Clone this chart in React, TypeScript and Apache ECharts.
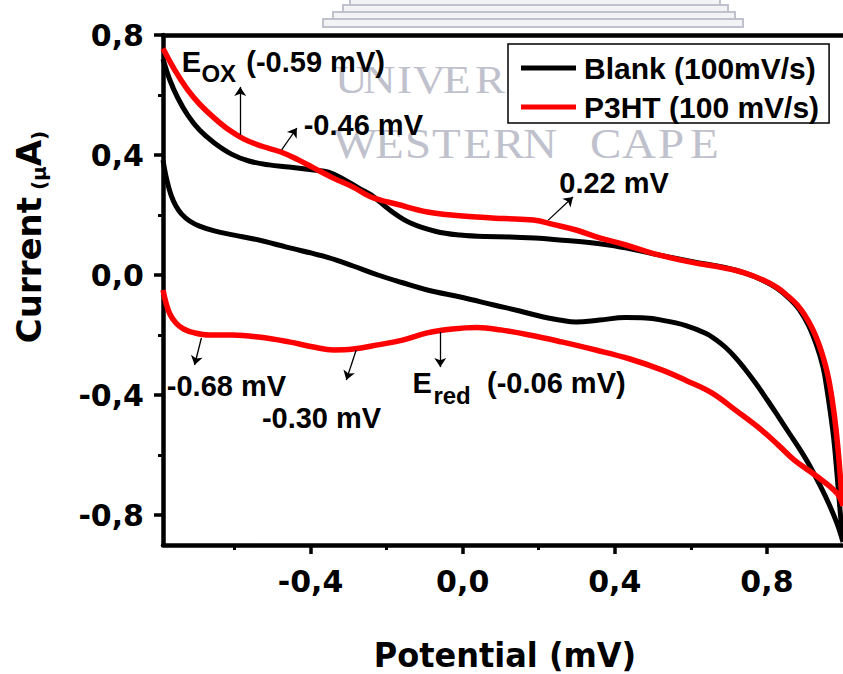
import React, { useEffect, useRef } from "react";
import * as echarts from "echarts";

// ---- Data ----
// Blank: forward (upper) branch left->right, then reverse (lower) branch right->left
const blankPotential = [
  -0.788, -0.77, -0.749, -0.723, -0.692, -0.653, -0.608, -0.562, -0.509, -0.457, -0.392, -0.353, -0.31,
  -0.27, -0.241, -0.19, -0.137, -0.07, -0.007, 0.06, 0.124, 0.19, 0.254, 0.32, 0.384, 0.45, 0.515,
  0.611, 0.689, 0.741, 0.79, 0.827, 0.86, 0.885, 0.91, 0.932, 0.948, 0.958, 0.968, 0.976, 0.984,
  0.992, 1.0,
  0.984, 0.96, 0.935, 0.91, 0.885, 0.86, 0.83, 0.8, 0.77, 0.74, 0.715, 0.69, 0.665, 0.64, 0.585, 0.53,
  0.481, 0.429, 0.36, 0.298, 0.254, 0.212, 0.15, 0.082, 0.0, -0.093, -0.16, -0.223, -0.288, -0.353,
  -0.463, -0.549, -0.601, -0.653, -0.692, -0.718, -0.739, -0.754, -0.767, -0.778, -0.788,
];
const blankCurrent = [
  0.72, 0.65, 0.59, 0.533, 0.483, 0.44, 0.403, 0.38, 0.367, 0.36, 0.35, 0.343, 0.317,
  0.287, 0.267, 0.215, 0.173, 0.145, 0.133, 0.128, 0.127, 0.123, 0.117, 0.11, 0.1, 0.085, 0.067,
  0.043, 0.025, 0.007, -0.018, -0.045, -0.08, -0.115, -0.17, -0.24, -0.31, -0.383, -0.47, -0.55, -0.66,
  -0.78, -0.89,
  -0.827, -0.755, -0.69, -0.63, -0.578, -0.53, -0.472, -0.415, -0.36, -0.31, -0.272, -0.24, -0.215,
  -0.195, -0.168, -0.152, -0.143, -0.142, -0.15, -0.157, -0.15, -0.14, -0.12, -0.1, -0.075, -0.05, -0.025,
  0.0, 0.03, 0.058, 0.093, 0.12, 0.133, 0.147, 0.163, 0.18, 0.203, 0.23, 0.267, 0.317, 0.383,
];

// P3HT: forward (upper) branch left->right, then reverse (lower) branch right->left
const p3htPotential = [
  -0.788, -0.757, -0.723, -0.692, -0.653, -0.614, -0.575, -0.53, -0.478, -0.431, -0.392, -0.34, -0.288,
  -0.241, -0.17, -0.093, -0.03, 0.038, 0.11, 0.186, 0.24, 0.298, 0.36, 0.429, 0.515, 0.6, 0.689,
  0.741, 0.79, 0.827, 0.855, 0.88, 0.9, 0.918, 0.935, 0.95, 0.962, 0.972, 0.981, 0.989, 0.996, 1.0,
  0.984, 0.93, 0.872, 0.83, 0.786, 0.72, 0.655, 0.59, 0.525, 0.44, 0.35, 0.26, 0.176, 0.1, 0.038,
  -0.027, -0.093, -0.158, -0.223, -0.288, -0.34, -0.392, -0.457, -0.536, -0.606, -0.666, -0.705, -0.734,
  -0.754, -0.77, -0.78, -0.788,
];
const p3htCurrent = [
  0.755, 0.683, 0.617, 0.57, 0.523, 0.483, 0.453, 0.43, 0.41, 0.383, 0.357, 0.323, 0.293,
  0.26, 0.235, 0.21, 0.2, 0.193, 0.188, 0.183, 0.168, 0.15, 0.124, 0.1, 0.067, 0.043, 0.023,
  0.007, -0.017, -0.042, -0.07, -0.1, -0.135, -0.175, -0.225, -0.283, -0.345, -0.42, -0.507, -0.61, -0.72, -0.77,
  -0.727, -0.67, -0.617, -0.567, -0.517, -0.453, -0.393, -0.353, -0.317, -0.28, -0.25, -0.223, -0.2,
  -0.183, -0.175, -0.18, -0.193, -0.217, -0.233, -0.247, -0.25, -0.24, -0.223, -0.207, -0.2, -0.2,
  -0.193, -0.18, -0.16, -0.13, -0.093, -0.05,
];

const seriesNames = ["Blank (100mV/s)", "P3HT (100 mV/s)"];

const xMajorTicks = [-0.4, 0, 0.4, 0.8];
const xMinorTicks = [-0.6, -0.2, 0.2, 0.6];
const yMajorTicks = [-0.8, -0.4, 0, 0.4, 0.8];
const yMinorTicks = [-0.6, -0.2, 0.2, 0.6];

// annotation texts (subscripts as their own pieces) and their anchors in data units
const annotationTexts = [
  "E", "OX", "(-0.59 mV)",
  "-0.46 mV", "0.22 mV", "-0.68 mV", "-0.30 mV",
  "E", "red", "(-0.06 mV)",
];
const annotationIsSub = [false, true, false, false, false, false, false, false, true, false];
const annotationAnchors = [
  [-0.739, 0.71], [-0.687, 0.672], [-0.569, 0.71],
  [-0.418, 0.5], [0.254, 0.307], [-0.778, -0.37], [-0.528, -0.475],
  [-0.132, -0.36], [-0.077, -0.4], [0.064, -0.36],
];
const arrowFrom = [
  [-0.585, 0.467],
  [-0.476, 0.417],
  [0.225, 0.183],
  [-0.687, -0.21],
  [-0.28, -0.25],
  [-0.059, -0.19],
];
const arrowTo = [
  [-0.585, 0.627],
  [-0.436, 0.49],
  [0.29, 0.26],
  [-0.705, -0.3],
  [-0.306, -0.35],
  [-0.059, -0.307],
];

const X_MIN = -0.788;
const X_MAX = 1.0;
const Y_MIN = -0.9;
const Y_MAX = 0.8;

const fmt = (v: number) => v.toFixed(1).replace(".", ",");

const TICK_FONT = "DejaVu Sans";
const ARIAL = "Liberation Sans";
const WM = "#bfc1cd";

export default function App() {
  const ref = useRef<HTMLDivElement>(null);

  useEffect(() => {
    if (!ref.current) return;
    const chart = echarts.init(ref.current, undefined, { renderer: "svg" });

    // watermark letters (decoration of the scanned page)
    const wmTop = ["U", "N", "I", "V", "E", "R"];
    const wmTopX = [335, 363, 397, 413, 443, 475];
    const wmBottom = ["W", "E", "S", "T", "E", "R", "N", "C", "A", "P", "E"];
    const wmBottomX = [333, 375, 405, 432, 463, 493, 523, 590, 622, 658, 690];

    const watermark: any[] = [
      { type: "rect", z: 0, shape: { x: 350, y: -3, width: 370, height: 8 }, style: { fill: "#f3f3f6", stroke: WM, lineWidth: 2 } },
      { type: "rect", z: 0, shape: { x: 343, y: 5, width: 385, height: 7 }, style: { fill: "#f3f3f6", stroke: WM, lineWidth: 2 } },
      { type: "rect", z: 0, shape: { x: 333, y: 12, width: 402, height: 7 }, style: { fill: "#f3f3f6", stroke: WM, lineWidth: 2 } },
      { type: "rect", z: 0, shape: { x: 323, y: 19, width: 420, height: 8 }, style: { fill: "#f3f3f6", stroke: WM, lineWidth: 2 } },
    ];
    wmTop.forEach((ch, i) =>
      watermark.push({
        type: "text", z: 0, x: wmTopX[i], y: 79, scaleX: 1.1,
        style: { text: ch, fontSize: 41, fontFamily: "Liberation Serif", fill: WM, align: "left", verticalAlign: "middle" },
      })
    );
    wmBottom.forEach((ch, i) =>
      watermark.push({
        type: "text", z: 0, x: wmBottomX[i], y: 144, scaleX: 1.12,
        style: { text: ch, fontSize: 42, fontFamily: "Liberation Serif", fill: WM, align: "left", verticalAlign: "middle" },
      })
    );

    const baseX = { type: "value", min: X_MIN, max: X_MAX, splitLine: { show: false } };
    const baseY = { type: "value", min: Y_MIN, max: Y_MAX, splitLine: { show: false } };

    const option: any = {
      animation: false,
      backgroundColor: "#fff",
      grid: { left: 163, right: -6, top: 35, bottom: 129, containLabel: false },
      legend: {
        data: seriesNames,
        orient: "vertical",
        left: 508,
        top: 44,
        padding: [8, 10, 0, 13],
        itemGap: 7,
        itemWidth: 55,
        itemHeight: 5,
        icon: "rect",
        backgroundColor: "#fff",
        borderColor: "#000",
        borderWidth: 1.5,
        selectedMode: false,
        textStyle: {
          fontSize: 30, fontWeight: "bold", fontFamily: ARIAL, color: "#000",
          lineHeight: 32, padding: [0, 0, 0, 3],
        },
      },
      xAxis: [
        {
          ...baseX,
          position: "bottom",
          axisLine: { show: true, onZero: false, lineStyle: { color: "#000", width: 4.5 } },
          axisTick: { show: true, customValues: xMajorTicks, length: 9, inside: false, lineStyle: { color: "#000", width: 3.5 } },
          axisLabel: {
            show: true, customValues: xMajorTicks, formatter: fmt, margin: 21,
            fontSize: 30, fontWeight: "bold", fontFamily: TICK_FONT, color: "#000",
          },
        },
        {
          ...baseX,
          position: "bottom",
          axisLine: { show: false, onZero: false },
          axisTick: { show: true, customValues: xMinorTicks, length: 5, inside: false, lineStyle: { color: "#000", width: 3 } },
          axisLabel: { show: false },
        },
        {
          ...baseX,
          position: "top",
          axisLine: { show: true, onZero: false, lineStyle: { color: "#000", width: 4.5 } },
          axisTick: { show: false },
          axisLabel: { show: false },
        },
      ],
      yAxis: [
        {
          ...baseY,
          position: "left",
          axisLine: { show: true, onZero: false, lineStyle: { color: "#000", width: 4.5 } },
          axisTick: { show: true, customValues: yMajorTicks, length: 9, inside: false, lineStyle: { color: "#000", width: 3.5 } },
          axisLabel: {
            show: true, customValues: yMajorTicks, formatter: fmt, margin: 19,
            fontSize: 30, fontWeight: "bold", fontFamily: TICK_FONT, color: "#000",
          },
        },
        {
          ...baseY,
          position: "left",
          axisLine: { show: false, onZero: false },
          axisTick: { show: true, customValues: yMinorTicks, length: 5, inside: false, lineStyle: { color: "#000", width: 3 } },
          axisLabel: { show: false },
        },
      ],
      graphic: [
        ...watermark,
        {
          type: "text", z: 10, x: 505, y: 655, scaleY: 1.08,
          style: {
            text: "Potential (mV)", fontSize: 32, fontWeight: "bold", fontFamily: TICK_FONT, fill: "#000",
            align: "center", verticalAlign: "middle",
          },
        },
        {
          type: "text", z: 10, x: 29, y: 237, rotation: Math.PI / 2,
          style: {
            text: "{b|Current}{s| (μ}{b|A}{s|)}",
            align: "center", verticalAlign: "middle", fill: "#000",
            rich: {
              b: { fontSize: 34, fontWeight: "bold", fontFamily: TICK_FONT, fill: "#000", lineHeight: 40, verticalAlign: "middle" },
              s: { fontSize: 20, fontWeight: "bold", fontFamily: TICK_FONT, fill: "#000", lineHeight: 22, verticalAlign: "bottom" },
            },
          },
        },
      ],
      series: [
        {
          name: seriesNames[0],
          type: "line",
          xAxisIndex: 0,
          yAxisIndex: 0,
          data: blankPotential.map((x, i) => [x, blankCurrent[i]]),
          showSymbol: false,
          symbol: "none",
          smooth: 0.4,
          clip: true,
          lineStyle: { color: "#000", width: 5 },
          itemStyle: { color: "#000" },
          emphasis: { disabled: true },
          z: 2,
        },
        {
          name: seriesNames[1],
          type: "line",
          xAxisIndex: 0,
          yAxisIndex: 0,
          data: p3htPotential.map((x, i) => [x, p3htCurrent[i]]),
          showSymbol: false,
          symbol: "none",
          smooth: 0.4,
          clip: true,
          lineStyle: { color: "#ff0000", width: 5.5 },
          itemStyle: { color: "#ff0000" },
          emphasis: { disabled: true },
          z: 3,
          markLine: {
            silent: true,
            animation: false,
            symbol: ["none", "arrow"],
            symbolSize: 9,
            lineStyle: { color: "#000", width: 1.3, type: "solid" },
            itemStyle: { color: "#000" },
            label: { show: false },
            emphasis: { disabled: true },
            data: arrowFrom.map((a, i) => [{ coord: a }, { coord: arrowTo[i] }]),
          },
          markPoint: {
            silent: true,
            animation: false,
            symbol: "circle",
            symbolSize: 0,
            itemStyle: { color: "transparent" },
            emphasis: { disabled: true },
            data: annotationAnchors.map((c, i) => ({
              coord: c,
              label: {
                show: true,
                position: "right",
                distance: 0,
                color: "#000",
                fontSize: annotationIsSub[i] ? 24 : 29,
                fontWeight: "bold",
                fontFamily: ARIAL,
                formatter: annotationTexts[i],
              },
            })),
          },
        },
      ],
    };

    chart.setOption(option);
    return () => {
      chart.dispose();
    };
  }, []);

  return (
    <div
      ref={ref}
      style={{ position: "fixed", left: 0, top: 0, width: 843, height: 674, background: "#fff" }}
    />
  );
}
